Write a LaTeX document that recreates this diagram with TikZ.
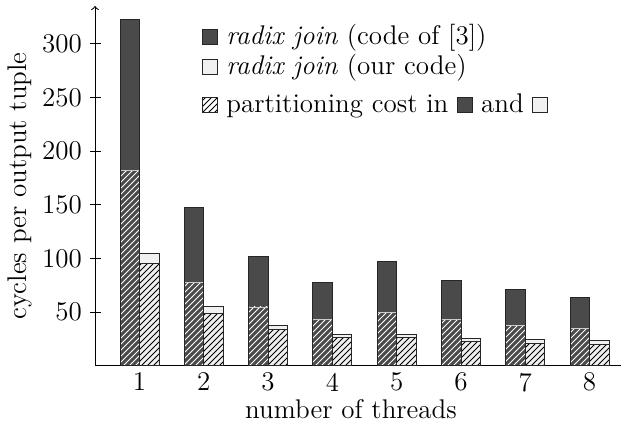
\documentclass[tikz,border=0pt]{standalone}
\usetikzlibrary{patterns,positioning}
\definecolor{darkbar}{gray}{0.29}
\definecolor{lightbar}{gray}{0.94}
\begin{document}
\begin{tikzpicture}[
  x=0.5pt, y=0.5pt,
  font=\fontsize{13.5}{16}\selectfont,
  dark/.style={fill=darkbar},
  light/.style={fill=lightbar},
  hatchw/.style={pattern=north east lines, pattern color=white},
  hatchb/.style={pattern=north east lines, pattern color=black},
  outline/.style={draw=black!85, line width=0.5pt},
  legsq/.style={draw=black!85, line width=0.5pt, minimum size=7.5pt, inner sep=0pt, anchor=south west},
  legtxt/.style={anchor=base west, inner sep=0pt},
  axis/.style={line width=0.5pt},
]
\useasboundingbox (0,0) rectangle (621,423);

%% axes
\coordinate (orig) at (95,57);
\coordinate (ytop) at (95,417);
\coordinate (xend) at (621,57);
\draw[axis,->] (orig) -- (ytop);
\draw[axis] (orig) -- (xend);

%% y ticks
\foreach \v in {50,100,...,300}{
  \draw[axis] (90,57+\v*1.074) -- (101,57+\v*1.074);
  \node[left=0.5pt] (ty\v) at (90,57+\v*1.074) {\v};
}

%% bars: threads / dark total / dark partitioning / light total / light partitioning
\foreach \n/\dt/\dp/\lt/\lp in {1/323/182/105/95, 2/148/78/55/49, 3/102/55/38/34,
    4/78/43/29/27, 5/97/50/29/27, 6/80/43/26/23, 7/71/38/25/21, 8/64/35/24/20}{
  \pgfmathsetmacro\c{139.5+(\n-1)*64.3}
  % code of [3]
  \fill[dark] (\c-19.5,57) rectangle (\c,57+\dt*1.074);
  \fill[hatchw] (\c-19.5,57) rectangle (\c,57+\dp*1.074);
  \draw[gray!40] (\c-19.5,57+\dp*1.074) -- (\c,57+\dp*1.074);
  \draw[outline] (\c-19.5,57) rectangle (\c,57+\dt*1.074);
  % our code
  \fill[light] (\c,57) rectangle (\c+19.5,57+\lt*1.074);
  \fill[hatchb] (\c,57) rectangle (\c+19.5,57+\lp*1.074);
  \draw[outline] (\c,57+\lp*1.074) -- (\c+19.5,57+\lp*1.074);
  \draw[outline] (\c,57) rectangle (\c+19.5,57+\lt*1.074);
  \node (tx\n) at (\c,41) {\n};
}

%% axis labels
\node[rotate=90] (ylab) at (20,237) {cycles per output tuple};
\node (xlab) at (351,14) {number of threads};

%% legend
\node[legsq, dark] (k1) at (202,378) {};
\node[legtxt] (l1) at ([xshift=4pt]k1.south east) {\textit{radix join} (code of [3])};
\node[legsq, light] (k2) at (202,348) {};
\node[legtxt] (l2) at ([xshift=4pt]k2.south east) {\textit{radix join} (our code)};
\node[legsq, hatchb] (k3) at (202,310) {};
\node[legtxt] (l3) at ([xshift=4pt]k3.south east) {partitioning cost in};
\node[legsq, dark] (k4) at ([xshift=4pt]l3.base east) {};
\node[legtxt] (l4) at ([xshift=4pt]k4.south east) {and};
\node[legsq, light] (k5) at ([xshift=4pt]l4.base east) {};

\end{tikzpicture}
\end{document}
